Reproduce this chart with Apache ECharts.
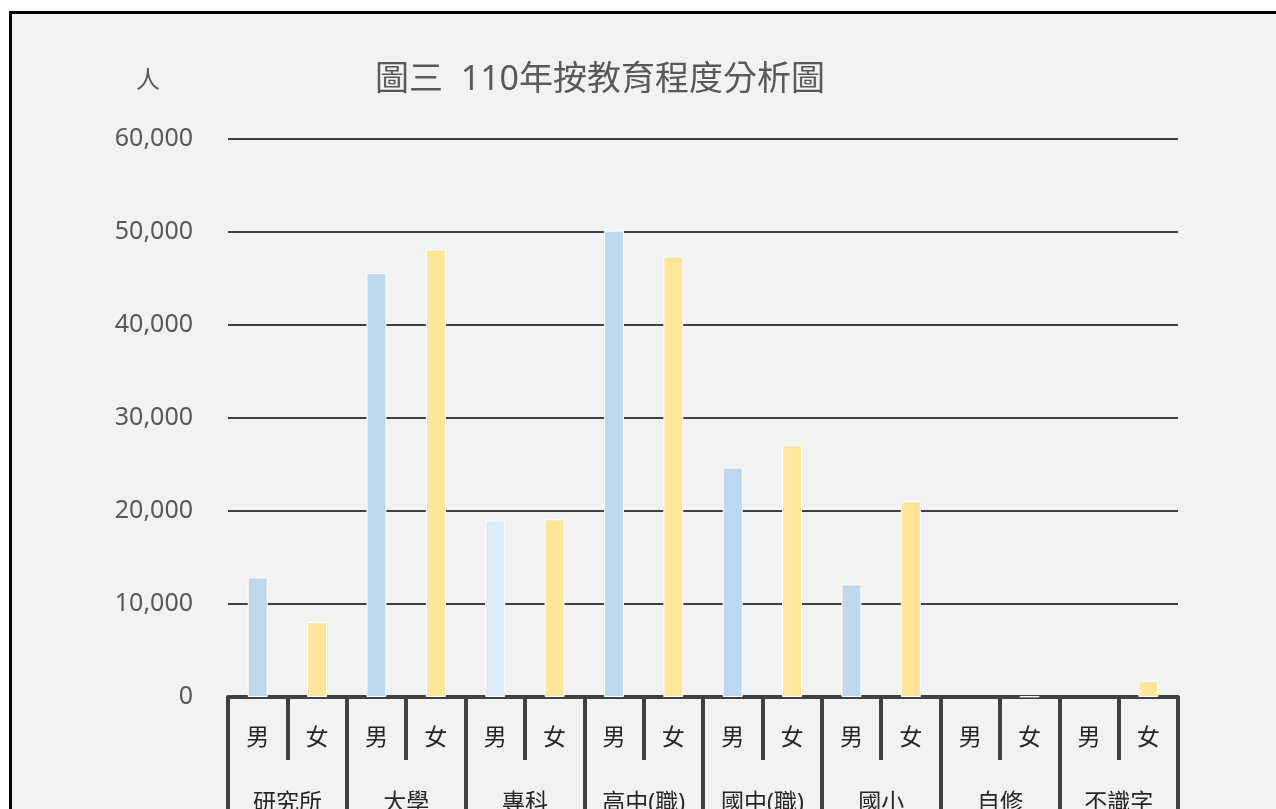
<!DOCTYPE html>
<html>
<head>
<meta charset="utf-8">
<script src="https://cdn.jsdelivr.net/npm/echarts@6/dist/echarts.min.js"></script>
<style>
  html, body { margin: 0; padding: 0; background: #ffffff; overflow: hidden; width: 1276px; height: 809px; }
  #frame { position: absolute; left: 9px; top: 11px; width: 1267px; height: 798px;
           border-left: 3px solid #000; border-top: 3px solid #000; box-sizing: border-box; }
  #chart { width: 1264px; height: 795px; }
</style>
</head>
<body>
<div id="frame"><div id="chart"></div></div>
<script>
// ---- data ----
const groups = ['研究所', '大學', '專科', '高中(職)', '國中(職)', '國小', '自修', '不識字'];
const genders = ['男', '女'];
const maleValues   = [12860, 45580, 18970, 50130, 24680, 12110, 0, 0];
const femaleValues = [8070, 48120, 19110, 47370, 27080, 21040, 60, 1750];
const yTicks = [0, 10000, 20000, 30000, 40000, 50000, 60000];
const titleText = '圖三  110年按教育程度分析圖';
const yUnit = '人';

// ---- build ----
const FONT = '"Noto Sans", "Noto Sans CJK TC", sans-serif';
const MALE = '#bdd7ee', MALE_LIGHT = '#ddebf7', FEMALE = '#ffe699';
const DARK = '#404040', TEXT = '#595959';

const subCats = [];
const barData = [];
function item(v, color) {
  return { value: v, itemStyle: { color: color, borderWidth: v > 0 ? 1 : 0 } };
}
groups.forEach((g, i) => {
  subCats.push(genders[0]);
  barData.push(item(maleValues[i], g === '專科' ? MALE_LIGHT : MALE));
  subCats.push(genders[1]);
  barData.push(item(femaleValues[i], FEMALE));
});

const chart = echarts.init(document.getElementById('chart'), null, { renderer: 'canvas' });
chart.setOption({
  backgroundColor: '#f2f2f2',
  animation: false,
  title: {
    text: titleText,
    left: 358, top: 44,
    textStyle: { fontFamily: FONT, fontSize: 34, fontWeight: 'normal', color: TEXT }
  },
  graphic: [{
    type: 'text', left: 124, top: 55,
    style: { text: yUnit, fontFamily: FONT, fontSize: 24, fill: TEXT }
  }],
  grid: { left: 216, right: 98, top: 125, bottom: 112, containLabel: false, outerBoundsMode: 'none' },
  xAxis: [{
    type: 'category',
    data: subCats,
    position: 'bottom',
    axisLine: { show: true, lineStyle: { color: DARK, width: 4 } },
    axisTick: { show: true, interval: 0, length: 63, lineStyle: { color: DARK, width: 4 } },
    axisLabel: { interval: 0, margin: 30, fontFamily: FONT, fontSize: 23, color: '#262626' },
    splitLine: { show: false }
  }, {
    type: 'category',
    data: groups,
    position: 'bottom',
    axisLine: { show: false },
    axisTick: { show: true, interval: 0, length: 130, lineStyle: { color: DARK, width: 4 } },
    axisLabel: { interval: 0, margin: 95, fontFamily: FONT, fontSize: 23, color: '#262626' },
    splitLine: { show: false }
  }],
  yAxis: {
    type: 'value',
    min: yTicks[0], max: yTicks[yTicks.length - 1], interval: yTicks[1] - yTicks[0],
    axisLine: { show: false },
    axisTick: { show: false },
    axisLabel: {
      margin: 35, fontFamily: FONT, fontSize: 25, color: TEXT,
      formatter: v => v.toLocaleString('en-US')
    },
    splitLine: { show: true, lineStyle: { color: DARK, width: 2 } }
  },
  series: [{
    type: 'bar',
    xAxisIndex: 0,
    data: barData,
    barWidth: 20,
    itemStyle: { borderColor: '#ffffff', borderWidth: 1 }
  }]
});
</script>
</body>
</html>
